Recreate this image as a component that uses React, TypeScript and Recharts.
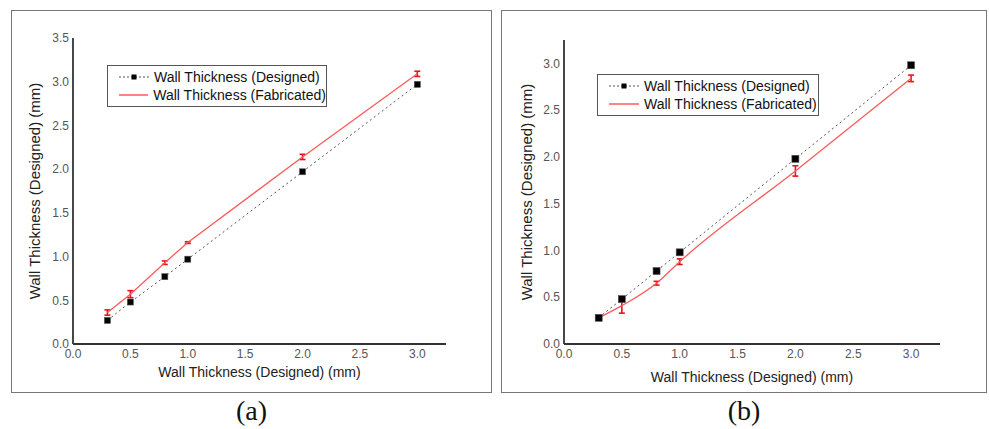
import { ErrorBar, Legend, Line, LineChart, XAxis, YAxis } from "recharts";

// measured wall thickness, panel (a) and panel (b)
const X_VALUES = [0.3, 0.5, 0.8, 1.0, 2.0, 3.0];

const DESIGNED_A = [0.27, 0.48, 0.77, 0.97, 1.97, 2.97];
const FABRICATED_A = [0.36, 0.57, 0.93, 1.16, 2.14, 3.09];
const ERROR_A = [0.03, 0.04, 0.02, 0.01, 0.03, 0.03];

const DESIGNED_B = [0.28, 0.48, 0.78, 0.98, 1.98, 2.98];
const FABRICATED_B = [0.28, 0.41, 0.65, 0.88, 1.85, 2.84];
const ERROR_B = [0.01, 0.08, 0.02, 0.03, 0.055, 0.035];

const X_TICKS = [0, 0.5, 1, 1.5, 2, 2.5, 3];
const Y_TICKS_A = [0, 0.5, 1, 1.5, 2, 2.5, 3, 3.5];
const Y_TICKS_B = [0, 0.5, 1, 1.5, 2, 2.5, 3];

const SERIES_NAMES = ["Wall Thickness (Designed)", "Wall Thickness (Fabricated)"];
const AXIS_TITLE = "Wall Thickness (Designed) (mm)";

const FONT = "'Liberation Sans', Arial, sans-serif";
const TICK = { fill: "#555", fontSize: 12 };
const AXIS_LINE = { stroke: "#333", strokeWidth: 1.8 };
const RED_LINE = "#ff5a5a";
const RED_BAR = "#e8141c";

type Row = { x: number; designed: number; fab: number; err: number };

function buildRows(des: number[], fab: number[], err: number[]): Row[] {
  return X_VALUES.map((x, i) => ({ x, designed: des[i], fab: fab[i], err: err[i] }));
}

function squareDot(size: number) {
  return (p: any) => (
    <rect
      key={`sq-${p.index}`}
      x={p.cx - size / 2}
      y={p.cy - size / 2}
      width={size}
      height={size}
      fill="#000"
      stroke="#555"
      strokeWidth={0.6}
    />
  );
}

function LegendBox({ payload, width }: any) {
  return (
    <div
      style={{
        width,
        border: "1.3px solid #555",
        background: "#fff",
        padding: "2px 0",
        boxSizing: "border-box",
        fontFamily: FONT,
        fontSize: 14,
        color: "#111",
      }}
    >
      {(payload || []).map((entry: any, i: number) => (
        <div key={i} style={{ display: "flex", alignItems: "center", height: 18 }}>
          <svg width={30} height={10} style={{ margin: "0 5px 0 11px" }}>
            <line
              x1={0}
              x2={30}
              y1={5}
              y2={5}
              stroke={entry.color}
              strokeWidth={i === 0 ? 1 : 1.5}
              strokeDasharray={i === 0 ? "2 2" : undefined}
            />
            {i === 0 && <rect x={12.5} y={2.5} width={5} height={5} fill="#000" />}
          </svg>
          <span style={{ whiteSpace: "nowrap" }}>{entry.value}</span>
        </div>
      ))}
    </div>
  );
}

type PanelProps = {
  rows: Row[];
  yMax: number;
  yTicks: number[];
  left: number;
  top: number;
  width: number;
  height: number;
  margin: { top: number; right: number };
  yAxisWidth: number;
  xAxisHeight: number;
  xLabelOffset: number;
  yLabelOffset: number;
  legend: { left: number; top: number; width: number };
  curve: "linear" | "monotone";
  dotSize: number;
  caption: string;
};

function Panel(props: PanelProps) {
  const {
    rows, yMax, yTicks, left, top, width, height, margin, yAxisWidth, xAxisHeight,
    xLabelOffset, yLabelOffset, legend, curve, dotSize, caption,
  } = props;
  return (
    <>
      <div
        style={{
          position: "absolute",
          left,
          top,
          width,
          height,
          border: "1.5px solid #777",
          boxSizing: "border-box",
        }}
      />
      <div style={{ position: "absolute", left, top, width, height }}>
        <LineChart
          width={width}
          height={height}
          data={rows}
          margin={{ top: margin.top, right: margin.right, left: 0, bottom: 0 }}
        >
          <XAxis
            dataKey="x"
            type="number"
            domain={[0, 3.25]}
            ticks={X_TICKS}
            tick={TICK}
            tickLine={false}
            tickSize={3}
            tickMargin={2.5}
            axisLine={AXIS_LINE}
            height={xAxisHeight}
            tickFormatter={(v: number) => v.toFixed(1)}
            label={{
              value: AXIS_TITLE,
              position: "insideBottom",
              offset: xLabelOffset,
              fill: "#222",
              fontSize: 14,
            }}
          />
          <YAxis
            type="number"
            domain={[0, yMax]}
            ticks={yTicks}
            tick={TICK}
            tickLine={false}
            tickSize={2}
            tickMargin={2}
            axisLine={AXIS_LINE}
            width={yAxisWidth}
            tickFormatter={(v: number) => v.toFixed(1)}
            label={{
              value: AXIS_TITLE,
              angle: -90,
              position: "insideLeft",
              offset: yLabelOffset,
              fill: "#222",
              fontSize: 15,
              style: { textAnchor: "middle" },
            }}
          />
          <Legend
            layout="vertical"
            align="center"
            verticalAlign="middle"
            wrapperStyle={{
              position: "absolute",
              left: legend.left,
              top: legend.top,
              width: legend.width,
              height: "auto",
            }}
            content={(p: any) => <LegendBox payload={p.payload} width={legend.width} />}
          />
          <Line
            type="linear"
            dataKey="designed"
            name={SERIES_NAMES[0]}
            stroke="#555"
            strokeWidth={1}
            strokeDasharray="2 3"
            dot={squareDot(dotSize)}
            activeDot={false}
            isAnimationActive={false}
          />
          <Line
            type={curve}
            dataKey="fab"
            name={SERIES_NAMES[1]}
            stroke={RED_LINE}
            strokeWidth={1.3}
            dot={false}
            activeDot={false}
            isAnimationActive={false}
          >
            <ErrorBar
              dataKey="err"
              direction="y"
              width={3}
              stroke={RED_BAR}
              strokeWidth={1.6}
              isAnimationActive={false}
            />
          </Line>
        </LineChart>
      </div>
      <div
        style={{
          position: "absolute",
          left,
          width,
          top: top + height + 2,
          textAlign: "center",
          fontFamily: "'Liberation Serif', 'Times New Roman', serif",
          fontSize: 28,
          lineHeight: "32px",
          color: "#111",
        }}
      >
        {caption}
      </div>
    </>
  );
}

export default function App() {
  const rowsA = buildRows(DESIGNED_A, FABRICATED_A, ERROR_A);
  const rowsB = buildRows(DESIGNED_B, FABRICATED_B, ERROR_B);
  return (
    <div
      style={{
        position: "absolute",
        left: 0,
        top: 0,
        width: 989,
        height: 429,
        background: "#fff",
        fontFamily: FONT,
        overflow: "hidden",
      }}
    >
      <Panel
        rows={rowsA}
        yMax={3.5}
        yTicks={Y_TICKS_A}
        left={11}
        top={10}
        width={481}
        height={383}
        margin={{ top: 28, right: 46 }}
        yAxisWidth={62}
        xAxisHeight={49}
        xLabelOffset={16}
        yLabelOffset={24}
        legend={{ left: 96, top: 55, width: 220 }}
        curve="linear"
        dotSize={6}
        caption="(a)"
      />
      <Panel
        rows={rowsB}
        yMax={3.25}
        yTicks={Y_TICKS_B}
        left={501}
        top={10}
        width={486}
        height={383}
        margin={{ top: 30, right: 47 }}
        yAxisWidth={63}
        xAxisHeight={49}
        xLabelOffset={11}
        yLabelOffset={26}
        legend={{ left: 96, top: 64, width: 222 }}
        curve="monotone"
        dotSize={7}
        caption="(b)"
      />
    </div>
  );
}
